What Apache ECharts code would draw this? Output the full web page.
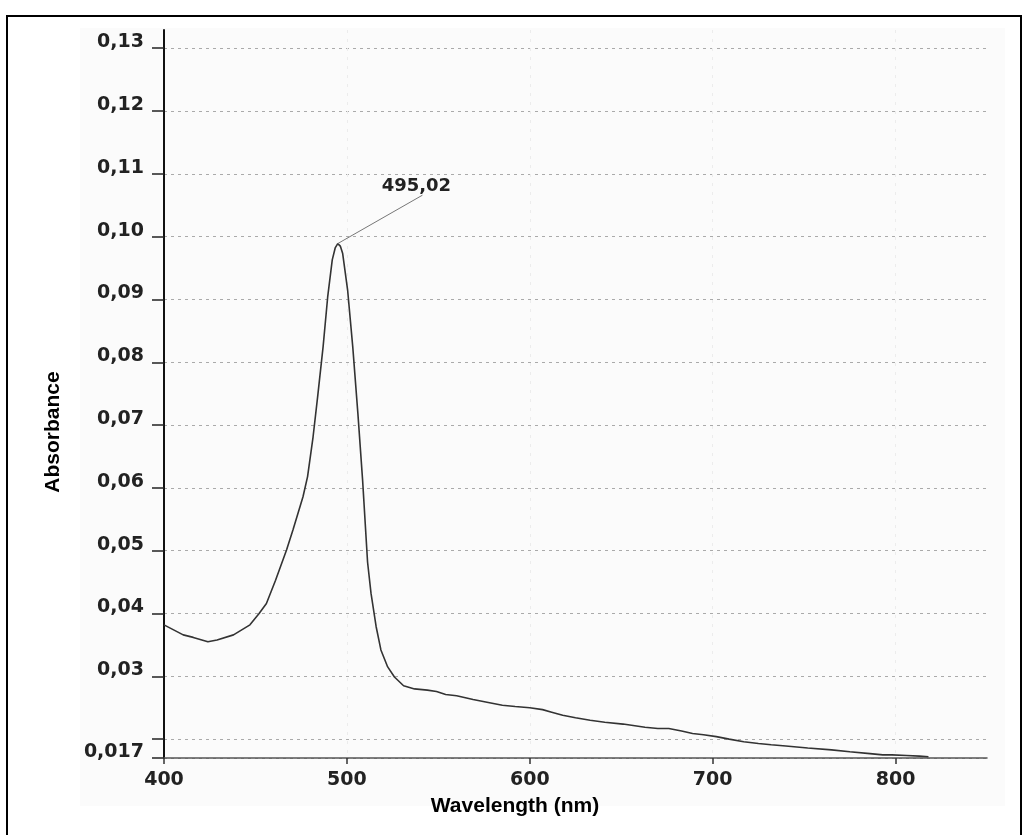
<!DOCTYPE html>
<html>
<head>
<meta charset="utf-8">
<script src="https://cdn.jsdelivr.net/npm/echarts@6/dist/echarts.min.js"></script>
<style>html,body{margin:0;padding:0;background:#fff;}#c{width:1029px;height:835px;}</style>
</head>
<body>
<div id="c"></div>
<script>
// Wavelength (nm) sample positions
var wavelengths = [400, 410.5, 416, 424, 429, 438, 447, 452, 456, 461, 467, 470.5, 476, 478.5, 481.5, 484, 487, 489.5, 492, 493.6, 495.02, 496.4, 497.7, 500.4, 503.2, 506, 508.6, 511.3, 513.2, 516, 518.6, 522.3, 526, 531, 537, 544, 549, 554, 560, 569, 578, 585, 592, 600, 607, 612, 618, 625, 633, 641, 651, 663, 670, 676, 683, 689, 695, 702, 709, 717, 725, 732, 740, 752, 765, 775, 786, 793, 798, 806, 813, 818];
// Absorbance values
var absorbance = [0.0382, 0.0366, 0.0362, 0.0355, 0.0358, 0.0366, 0.0382, 0.0400, 0.0416, 0.0453, 0.0501, 0.0533, 0.0586, 0.0618, 0.0681, 0.0745, 0.0825, 0.0904, 0.0963, 0.0982, 0.0989, 0.0985, 0.0973, 0.0915, 0.0825, 0.0719, 0.0612, 0.0482, 0.0432, 0.0379, 0.0342, 0.0315, 0.0299, 0.0285, 0.0280, 0.0278, 0.0276, 0.0271, 0.0269, 0.0263, 0.0258, 0.0254, 0.0252, 0.0250, 0.0247, 0.0243, 0.0238, 0.0234, 0.0230, 0.0227, 0.0224, 0.0219, 0.0217, 0.0217, 0.0213, 0.0209, 0.0207, 0.0204, 0.0200, 0.0196, 0.0193, 0.0191, 0.0189, 0.0186, 0.0183, 0.0180, 0.0177, 0.0175, 0.0175, 0.0174, 0.0173, 0.0172];
// Axis ticks and labels
var xTicks = [400, 500, 600, 700, 800];
var yTicks = [0.017, 0.02, 0.03, 0.04, 0.05, 0.06, 0.07, 0.08, 0.09, 0.10, 0.11, 0.12, 0.13];
var yLabels = [0.017, 0.03, 0.04, 0.05, 0.06, 0.07, 0.08, 0.09, 0.10, 0.11, 0.12, 0.13];
// Peak annotation
var peakText = '495,02';
var peakPoint = [495.02, 0.0989];
var leaderEnd = [541.3, 0.1066];
var peakLabelPos = [538, 0.1080];

var pts = wavelengths.map(function (w, i) { return [w, absorbance[i]]; });
var chart = echarts.init(document.getElementById('c'), null, {renderer: 'canvas'});
var tickFont = {fontFamily: 'DejaVu Sans', fontWeight: 'bold', fontSize: 19, color: '#222'};

chart.setOption({
  backgroundColor: '#ffffff',
  animation: false,
  grid: {left: 164, right: 42, top: 30, bottom: 77, containLabel: false},
  graphic: [
    {type: 'rect', z: -10, shape: {x: 80, y: 28, width: 925, height: 778}, style: {fill: '#fbfbfb'}},
    {type: 'rect', z: 100, shape: {x: 7, y: 16, width: 1014, height: 900}, style: {fill: null, stroke: '#000', lineWidth: 2}},
    {type: 'text', z: 100, x: 53, y: 432, rotation: Math.PI / 2,
      style: {text: 'Absorbance', font: 'bold 21px "Liberation Sans", Arial, sans-serif', fill: '#000', textAlign: 'center', textVerticalAlign: 'middle'}},
    {type: 'text', z: 100, x: 515, y: 806,
      style: {text: 'Wavelength (nm)', font: 'bold 21px "Liberation Sans", Arial, sans-serif', fill: '#000', textAlign: 'center', textVerticalAlign: 'middle'}}
  ],
  xAxis: {
    type: 'value', min: 400, max: 850,
    axisLine: {show: true, onZero: false, lineStyle: {color: '#555', width: 1.5}},
    axisTick: {show: true, inside: false, length: 6, customValues: xTicks, lineStyle: {color: '#333', width: 1.5}},
    axisLabel: Object.assign({show: true, margin: 13, customValues: xTicks, formatter: function (v) { return String(v); }}, tickFont),
    splitLine: {show: true, lineStyle: {color: '#ececec', type: [3, 6], width: 1}}
  },
  yAxis: {
    type: 'value', min: 0.017, max: 0.1329,
    axisLine: {show: true, onZero: false, lineStyle: {color: '#111', width: 2}},
    axisTick: {show: true, inside: false, length: 12, customValues: yTicks, lineStyle: {color: '#222', width: 1.5}},
    axisLabel: Object.assign({show: true, margin: 20, customValues: yLabels, verticalAlign: 'bottom', lineHeight: 12,
      formatter: function (v) {
        if (Math.abs(v - 0.017) < 1e-9) return '0,017';
        return v.toFixed(2).replace('.', ',');
      }}, tickFont),
    splitLine: {show: true, lineStyle: {color: '#aaa', type: [3, 4], width: 1}}
  },
  series: [{
    type: 'line',
    data: pts,
    showSymbol: false,
    smooth: false,
    lineStyle: {color: '#333', width: 1.6},
    markLine: {
      silent: true, symbol: ['none', 'none'],
      lineStyle: {color: '#777', width: 1, type: 'solid'},
      label: {show: false},
      data: [[{coord: peakPoint}, {coord: leaderEnd}]]
    },
    markPoint: {
      silent: true, symbol: 'circle', symbolSize: 0,
      label: {show: true, position: 'inside', formatter: peakText, fontFamily: 'DejaVu Sans', fontWeight: 'bold', fontSize: 18, color: '#222'},
      data: [{coord: peakLabelPos}]
    }
  }]
});
</script>
</body>
</html>
